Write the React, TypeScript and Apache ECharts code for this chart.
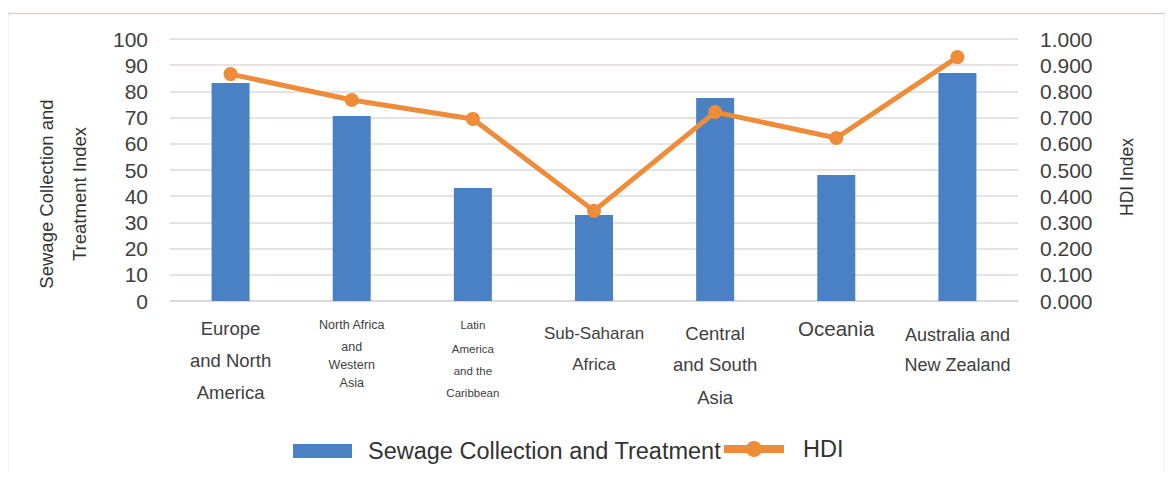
import React, { useEffect, useRef } from "react";
import * as echarts from "echarts";

const categories = [
  "Europe and North America",
  "North Africa and Western Asia",
  "Latin America and the Caribbean",
  "Sub-Saharan Africa",
  "Central and South Asia",
  "Oceania",
  "Australia and New Zealand",
];
const sewageValues = [83.2, 70.6, 43.1, 32.8, 77.5, 48.1, 87.0];
const hdiValues = [0.866, 0.767, 0.695, 0.344, 0.721, 0.622, 0.931];
const leftTicks = { min: 0, max: 100, interval: 10 };
const rightTicks = { min: 0, max: 1, interval: 0.1 };

const labelRich: Record<string, string> = {
  "Europe and North America": "{e|Europe}\n{e|and North}\n{e|America}",
  "North Africa and Western Asia": "{n1|North Africa}\n{n|and}\n{n|Western}\n{n|Asia}",
  "Latin America and the Caribbean": "{l1|Latin}\n{l|America}\n{l|and the}\n{l|Caribbean}",
  "Sub-Saharan Africa": "{s1|Sub-Saharan}\n{s2|Africa}",
  "Central and South Asia": "{c1|Central}\n{c2|and South}\n{c3|Asia}",
  Oceania: "{o|Oceania}",
  "Australia and New Zealand": "{a1|Australia and}\n{a2|New Zealand}",
};

const FONT = "'Liberation Sans', Arial, sans-serif";
const TXT = "#404040";

export default function App() {
  const ref = useRef<HTMLDivElement>(null);
  useEffect(() => {
    if (!ref.current) return;
    const chart = echarts.init(ref.current, null, { renderer: "svg" });
    const st = (fontSize: number, lineHeight: number) => ({
      fontSize,
      lineHeight,
      align: "center",
      color: TXT,
      fontFamily: FONT,
    });
    chart.setOption({
      animation: false,
      backgroundColor: "#ffffff",
      graphic: [
        {
          type: "rect",
          shape: { x: 7.5, y: 13.5, width: 1158, height: 463 },
          style: { fill: "none", stroke: "#d6d2d0", lineWidth: 1.5 },
          silent: true,
        },
        {
          type: "text",
          x: 63,
          y: 194,
          rotation: Math.PI / 2,
          style: {
            text: "Sewage Collection and\nTreatment Index",
            fontSize: 18.5,
            lineHeight: 33,
            fontFamily: FONT,
            fill: "#333",
            textAlign: "center",
            textVerticalAlign: "middle",
          },
        },
        {
          type: "text",
          x: 1127,
          y: 177,
          rotation: Math.PI / 2,
          style: {
            text: "HDI Index",
            fontSize: 17.5,
            fontFamily: FONT,
            fill: "#333",
            textAlign: "center",
            textVerticalAlign: "middle",
          },
        },
      ],
      legend: [
        {
          left: 288,
          top: 434,
          itemWidth: 59,
          itemHeight: 14,
          textStyle: { fontSize: 23.5, fontFamily: FONT, color: "#333", padding: [0, 0, 0, 11] },
          data: [{ name: "Sewage Collection and Treatment", icon: "rect" }],
        },
        {
          left: 715,
          top: 432,
          itemWidth: 60,
          itemHeight: 20,
          lineStyle: { width: 8 },
          textStyle: { fontSize: 23.5, fontFamily: FONT, color: "#333", padding: [0, 0, 0, 14] },
          data: [{ name: "HDI" }],
        },
      ],
      grid: { left: 170, right: 155, top: 39, bottom: 179, containLabel: false },
      xAxis: {
        type: "category",
        data: categories,
        axisTick: { show: false },
        axisLine: { lineStyle: { color: "#d9d9d9", width: 1.5 } },
        axisLabel: {
          margin: 11,
          interval: 0,
          verticalAlign: "top",
          formatter: (v: string) => labelRich[v] || v,
          rich: {
            e: st(18.5, 32),
            n1: st(12.5, 26),
            n: st(12.5, 18),
            l1: st(11.5, 26),
            l: st(11.5, 22),
            s1: st(17, 42),
            s2: st(17, 20),
            c1: st(18.5, 42),
            c2: st(18.5, 20),
            c3: st(18.5, 46),
            o: st(20.5, 32),
            a1: st(18, 46),
            a2: st(18, 14),
          },
        },
      },
      yAxis: [
        {
          type: "value",
          ...leftTicks,
          axisLine: { show: false },
          axisTick: { show: false },
          splitLine: { lineStyle: { color: "#dedad8", width: 1.5 } },
          axisLabel: { margin: 22, fontSize: 21, fontFamily: FONT, color: TXT },
        },
        {
          type: "value",
          ...rightTicks,
          axisLine: { show: false },
          axisTick: { show: false },
          splitLine: { show: false },
          axisLabel: {
            margin: 22,
            fontSize: 21,
            fontFamily: FONT,
            color: TXT,
            formatter: (v: number) => v.toFixed(3),
          },
        },
      ],
      series: [
        {
          name: "Sewage Collection and Treatment",
          type: "bar",
          data: sewageValues,
          barWidth: 38,
          yAxisIndex: 0,
          itemStyle: { color: "#4a80c4" },
        },
        {
          name: "HDI",
          type: "line",
          data: hdiValues,
          yAxisIndex: 1,
          symbol: "circle",
          symbolSize: 14,
          lineStyle: { color: "#ef8c3a", width: 5 },
          itemStyle: { color: "#ef8c3a" },
        },
      ],
    });
    return () => chart.dispose();
  }, []);
  return <div ref={ref} style={{ width: 1173, height: 480, margin: -8 }} />;
}
